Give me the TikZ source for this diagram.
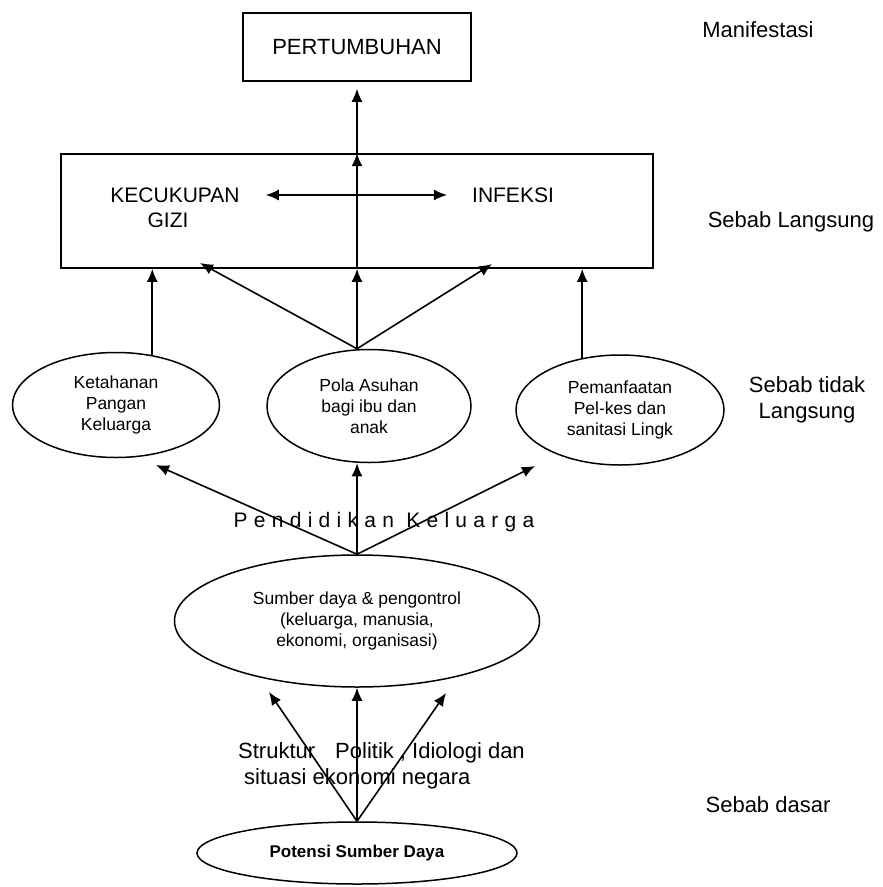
\documentclass[tikz,border=0pt]{standalone}
\usepackage{fontspec}
\setmainfont{Liberation Sans}
\newfontfamily\jarangfont[LetterSpace=30]{Liberation Sans}
\usetikzlibrary{shapes.geometric,arrows.meta}
\tikzset{>={Latex[length=13pt,width=11pt]}}
\tikzset{kotak/.style={draw,line width=1.6pt,inner sep=0pt,font=\fontsize{22}{26}\selectfont}}
\tikzset{elips/.style={ellipse,draw,line width=1.5pt,align=center,inner sep=0pt,font=\fontsize{17.5}{21}\selectfont}}
\tikzset{teks/.style={inner sep=0pt,align=center,font=\fontsize{22}{26}\selectfont}}
\tikzset{panah/.style={->,line width=1.6pt}}

\begin{document}
\begin{tikzpicture}[x=1pt,y=-1pt]
\useasboundingbox (0,0) rectangle (883,887);
% kotak
\node[kotak,minimum width=228pt,minimum height=68pt,name=tumbuh] at (357,47) {PERTUMBUHAN};
\node[kotak,minimum width=592pt,minimum height=114pt,name=langsung] at (357,211) {};
\node[teks,name=gizi1,font=\fontsize{21}{25}\selectfont] at (175,195) {KECUKUPAN};
\node[teks,name=gizi2,font=\fontsize{21}{25}\selectfont] at (168,220) {GIZI};
\node[teks,name=infeksi,font=\fontsize{21}{25}\selectfont] at (513,195) {INFEKSI};
% ellips
\node[elips,minimum width=207pt,minimum height=105pt,name=pangan] at (116,405) {Ketahanan\\Pangan\\Keluarga};
\node[elips,minimum width=204pt,minimum height=113pt,name=asuh] at (369,406) {Pola Asuhan\\bagi ibu dan\\anak};
\node[elips,minimum width=208pt,minimum height=110pt,name=manfaat] at (620,410) {Pemanfaatan\\Pel-kes dan\\sanitasi Lingk};
\node[elips,minimum width=365pt,minimum height=132pt,name=sumber] at (357,621) {Sumber daya \& pengontrol\\(keluarga, manusia,\\ekonomi, organisasi)};
\node[elips,minimum width=320pt,minimum height=62pt,name=potensi,font=\bfseries\fontsize{17}{20}\selectfont] at (357,853) {Potensi Sumber Daya};
% teks samping
\node[teks,name=manifestasi] at (758,30) {Manifestasi};
\node[teks,name=sl] at (791,222) {Sebab Langsung};
\node[teks,name=stl] at (807,400) {Sebab tidak\\Langsung};
\node[teks,name=sd] at (768,805) {Sebab dasar};
\node[teks,name=didik,font=\jarangfont\fontsize{21}{25}\selectfont] at (384,522) {Pendidikan Keluarga};
\node[teks,name=struktur,align=left,anchor=west] at (238,766) {Struktur\hspace{20pt}Politik , Idiologi dan\\\hspace*{6pt}situasi ekonomi negara};
% ujung panah
\coordinate (ujungA) at (200,263);
\coordinate (ujungB) at (492,264);
\coordinate (ujungC) at (156,465);
\coordinate (ujungD) at (535,466);
\coordinate (ujungE) at (269,692);
\coordinate (ujungF) at (446,693);
% panah
\draw[panah] (tumbuh |- asuh.north) -- (ujungA);
\draw[panah] (tumbuh |- asuh.north) -- (langsung.south);
\draw[panah] (tumbuh |- asuh.north) -- (ujungB);
\draw[panah] (langsung.south) -- (langsung.north);
\draw[panah,shorten >=7pt] (langsung.north) -- (tumbuh.south);
\draw[panah] (pangan.54) -- (pangan.54 |- langsung.south);
\draw[panah] (manfaat.126) -- (manfaat.126 |- langsung.south);
\draw[panah,<->,shorten <=26pt,shorten >=25pt] (gizi1) -- (infeksi);
\draw[panah] (sumber.north) -- (ujungC);
\draw[panah] (sumber.north) -- (sumber.north |- asuh.south);
\draw[panah] (sumber.north) -- (ujungD);
\draw[panah] (potensi.north) -- (ujungE);
\draw[panah] (potensi.north) -- (sumber.south);
\draw[panah] (potensi.north) -- (ujungF);
\end{tikzpicture}
\end{document}
